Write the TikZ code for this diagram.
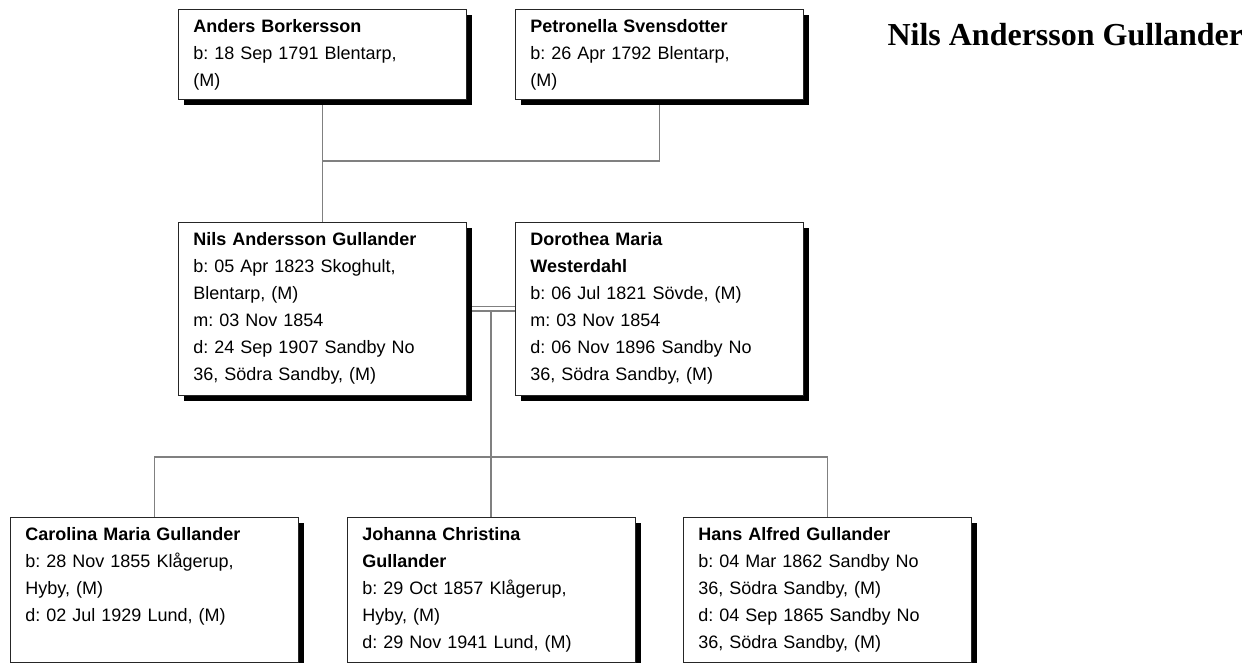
\documentclass[tikz,border=0pt]{standalone}
\usepackage{fontspec}
\setmainfont{Liberation Sans}
\newfontfamily\titlefont{Liberation Serif}
\usetikzlibrary{shadows,backgrounds}
\definecolor{linkgray}{RGB}{128,128,128}
\frenchspacing

\begin{document}
\begin{tikzpicture}[x=1pt,y=-1pt,
	person/.style={draw=black!85,line width=0.9pt,fill=white,anchor=north west,
		text width=258pt,inner xsep=15pt,inner ysep=0pt,align=left,
		font=\fontsize{18}{27}\selectfont,text height=23.3pt,
		drop shadow={shadow xshift=6pt,shadow yshift=-6pt,fill=black,opacity=1}},
	toprow/.style={person,text depth=66.7pt},
	midrow/.style={person,text depth=149.7pt},
	kidrow/.style={person,text depth=122pt},
	link/.style={draw=linkgray,line width=1.6pt}]
	\useasboundingbox (0,0) rectangle (1242,663);
	\node[toprow](anders) at (178,9){\textbf{Anders Borkersson}\\b: 18 Sep 1791 Blentarp,\\(M)};
	\node[toprow](petro) at (515,9){\textbf{Petronella Svensdotter}\\b: 26 Apr 1792 Blentarp,\\(M)};
	\node[midrow](nils) at (178,221.7){\textbf{Nils Andersson Gullander}\\b: 05 Apr 1823 Skoghult,\\Blentarp, (M)\\m: 03 Nov 1854\\d: 24 Sep 1907 Sandby No\\36, Södra Sandby, (M)};
	\node[midrow](doro) at (515,221.7){\textbf{Dorothea Maria}\\\textbf{Westerdahl}\\b: 06 Jul 1821 Sövde, (M)\\m: 03 Nov 1854\\d: 06 Nov 1896 Sandby No\\36, Södra Sandby, (M)};
	\node[kidrow](carol) at (10,516.7){\textbf{Carolina Maria Gullander}\\b: 28 Nov 1855 Klågerup,\\Hyby, (M)\\d: 02 Jul 1929 Lund, (M)};
	\node[kidrow](johanna) at (347,516.7){\textbf{Johanna Christina}\\\textbf{Gullander}\\b: 29 Oct 1857 Klågerup,\\Hyby, (M)\\d: 29 Nov 1941 Lund, (M)};
	\node[kidrow](hans) at (683,516.7){\textbf{Hans Alfred Gullander}\\b: 04 Mar 1862 Sandby No\\36, Södra Sandby, (M)\\d: 04 Sep 1865 Sandby No\\36, Södra Sandby, (M)};
	\node[anchor=base west,font=\titlefont\bfseries\fontsize{32}{38}\selectfont](title) at (884,46){Nils Andersson Gullander};
	\begin{scope}[on background layer]
		\draw[link](anders.south)-- ++(0,61) coordinate(pa) -|(petro.south);
		\draw[link](pa)--(nils.north);
		\path(nils.east)--(doro.west) coordinate[midway](wed);
		\draw[link](wed)--(wed|-johanna.north);
		\draw[link](carol.north)-- ++(0,-60) -|(hans.north);
		\draw[link,double=white,double distance=2.6pt](nils.east)--(doro.west);
	\end{scope}
\end{tikzpicture}
\end{document}
